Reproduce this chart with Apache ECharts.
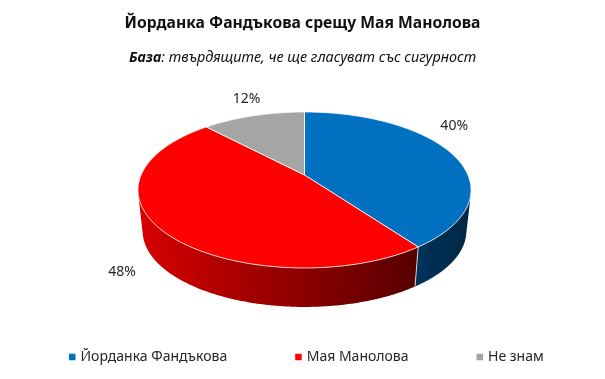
<!DOCTYPE html>
<html><head><meta charset="utf-8">
<style>html,body{margin:0;padding:0;background:#fff}#c{width:605px;height:379px}</style>
<script src="https://cdn.jsdelivr.net/npm/echarts@6/dist/echarts.min.js"></script>
</head><body><div id="c"></div>
<script>
const categories = ['Йорданка Фандъкова', 'Мая Манолова', 'Не знам'];
const values = [40, 48, 12];
const topColors = ['#0070C0', '#FF0000', '#A5A5A5'];
const wallFrom = ['#00335c', '#d80000', '#636363'];
const wallTo = ['#002744', '#560000', '#636363'];
const titleText = 'Йорданка Фандъкова срещу Мая Манолова';
const FONT = '"Noto Sans", sans-serif';

// perspective disc geometry
const G = {cx: 304.5, cy: 175, a: 163.4, b: 75.1, k: -0.192, depth: 41.6, shrink: 0.972};
const labelShift = [[3, -27], [-39, 42], [-7, -17]];
const total = values.reduce((s, v) => s + v, 0);
const starts = values.map((_, i) => values.slice(0, i).reduce((s, v) => s + v, 0));

function project(frac, lower) {
  const t = frac * 2 * Math.PI, u = Math.sin(t), v = -Math.cos(t), w = 1 + G.k * v;
  const s = lower ? G.shrink : 1, d = lower ? G.depth : 0;
  return [G.cx + s * G.a * u / w, G.cy + d + s * G.b * v / w];
}
function arc(from, to, lower) {
  const n = Math.max(2, Math.ceil((to - from) * 720)), pts = [];
  for (let j = 0; j <= n; j++) pts.push(project(from + (to - from) * j / n, lower));
  return pts;
}
function fracs(i) { return [starts[i] / total, (starts[i] + values[i]) / total]; }
// keeps only the part of the rim that faces the viewer, so the wall never folds over itself
function faces(frac) {
  const e = 1e-4, a = project(frac - e, false), b = project(frac + e, false), up = project(frac, false), lo = project(frac, true);
  return (lo[0] - up[0]) * (b[1] - a[1]) - (lo[1] - up[1]) * (b[0] - a[0]) > 0;
}

const wallSeries = {
  type: 'custom', coordinateSystem: 'none', silent: true, z: 1,
  data: values.map((v, i) => [i, v]),
  renderItem(params, api) {
    const i = api.value(0), [f, t] = fracs(i);
    const n = Math.ceil((t - f) * 720), fr = [];
    for (let j = 0; j <= n; j++) { const q = f + (t - f) * j / n; if (faces(q)) fr.push(q); }
    if (fr.length < 2) return {type: 'group', children: []};
    const upper = fr.map(q => project(q, false)), lower = fr.map(q => project(q, true));
    const xs = upper.concat(lower).map(p => p[0]);
    const x0 = Math.min(...xs), x1 = Math.max(...xs);
    const children = [
      {type: 'polygon', shape: {points: upper.concat(lower.slice().reverse())},
       style: {fill: new echarts.graphic.LinearGradient(x0, 0, x1, 0,
         [{offset: 0, color: wallFrom[i]}, {offset: 1, color: wallTo[i]}], true)}}
    ];
    if (faces(f)) children.push({type: 'line', shape: {x1: upper[0][0], y1: upper[0][1], x2: lower[0][0], y2: lower[0][1]},
       style: {stroke: 'rgba(255,255,255,0.75)', lineWidth: 1}});
    return {type: 'group', children};
  }
};

const topSeries = categories.map((name, i) => ({
  type: 'custom', name, coordinateSystem: 'none', silent: true, z: 2,
  itemStyle: {color: topColors[i]},
  data: [[i, values[i]]],
  renderItem() {
    const [f, t] = fracs(i), mid = project((f + t) / 2, false);
    return {type: 'group', children: [
      {type: 'polygon', shape: {points: [[G.cx, G.cy]].concat(arc(f, t, false))},
       style: {fill: topColors[i], stroke: 'rgba(255,255,255,0.8)', lineWidth: 1, lineJoin: 'round'}},
      {type: 'text', z2: 10, style: {text: values[i] + '%', x: mid[0] + labelShift[i][0], y: mid[1] + labelShift[i][1],
        align: 'center', verticalAlign: 'middle', font: '14px ' + FONT, fill: '#262626'}}
    ]};
  }
}));

const chart = echarts.init(document.getElementById('c'), null, {renderer: 'canvas'});
chart.setOption({
  animation: false,
  backgroundColor: '#fff',
  title: [
    {text: titleText, left: 'center', top: 11,
     textStyle: {fontFamily: FONT, fontSize: 15.7, fontWeight: 'bold', color: '#111'}},
    {text: '{b|База}{i|: твърдящите, че ще гласуват със сигурност}', left: 'center', top: 46,
     textStyle: {fontWeight: 'normal', rich: {
       b: {fontFamily: FONT, fontSize: 14.4, fontWeight: 'bold', fontStyle: 'italic', color: '#111'},
       i: {fontFamily: FONT, fontSize: 14.4, fontWeight: 'normal', fontStyle: 'italic', color: '#111'}}}}
  ],
  legend: {
    data: categories, left: 64, top: 345, itemWidth: 6.5, itemHeight: 6.5, itemGap: 68,
    icon: 'rect', selectedMode: false,
    textStyle: {fontFamily: FONT, fontSize: 14, color: '#262626', padding: [0, 0, 0, 0]}
  },
  series: [wallSeries].concat(topSeries)
});
</script></body></html>
